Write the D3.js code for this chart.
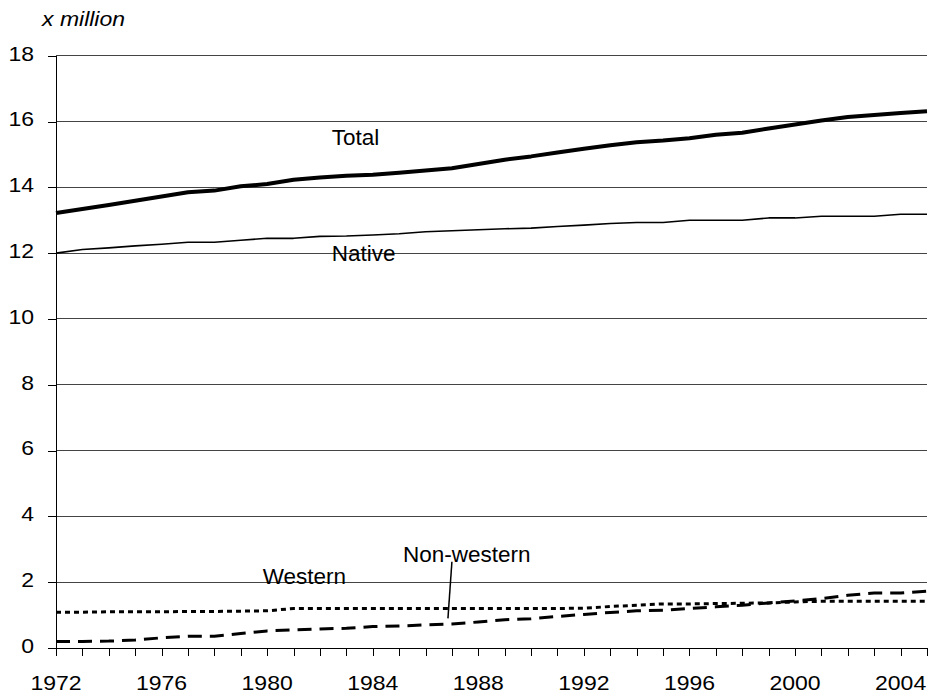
<!DOCTYPE html>
<html>
<head>
<meta charset="utf-8">
<script src="https://cdn.jsdelivr.net/npm/d3@7"></script>
<style>
  html, body { margin: 0; padding: 0; background: #fff; }
  svg { display: block; }
  text { font-family: "Liberation Sans", Arial, sans-serif; fill: #000; }
</style>
</head>
<body>
<svg id="chart" width="930" height="699"></svg>
<script>
// ---- data ----
const years = d3.range(1972, 2006);
const total = [13.22, 13.34, 13.46, 13.59, 13.72, 13.85, 13.90, 14.03, 14.10, 14.23,
               14.30, 14.35, 14.38, 14.44, 14.51, 14.58, 14.71, 14.84, 14.94, 15.06,
               15.17, 15.28, 15.37, 15.42, 15.49, 15.60, 15.66, 15.79, 15.91, 16.03,
               16.14, 16.20, 16.26, 16.31];
const native = [12.00, 12.11, 12.16, 12.22, 12.27, 12.33, 12.33, 12.39, 12.45, 12.45,
                12.51, 12.52, 12.55, 12.59, 12.65, 12.68, 12.71, 12.74, 12.76, 12.81,
                12.85, 12.90, 12.93, 12.93, 13.00, 13.00, 13.00, 13.07, 13.07, 13.12,
                13.12, 13.12, 13.18, 13.18];
const western = [1.09, 1.09, 1.10, 1.10, 1.10, 1.11, 1.11, 1.12, 1.13, 1.20,
                 1.20, 1.20, 1.20, 1.20, 1.20, 1.20, 1.20, 1.20, 1.20, 1.20,
                 1.21, 1.26, 1.30, 1.34, 1.34, 1.35, 1.36, 1.37, 1.40, 1.42,
                 1.42, 1.42, 1.42, 1.42];
const nonWestern = [0.20, 0.20, 0.21, 0.24, 0.31, 0.36, 0.36, 0.44, 0.52, 0.55,
                    0.58, 0.60, 0.65, 0.67, 0.70, 0.73, 0.79, 0.86, 0.89, 0.96,
                    1.02, 1.08, 1.13, 1.15, 1.20, 1.25, 1.30, 1.37, 1.43, 1.50,
                    1.60, 1.67, 1.67, 1.73];
const yTicks = [0, 2, 4, 6, 8, 10, 12, 14, 16, 18];
const xLabelYears = [1972, 1976, 1980, 1984, 1988, 1992, 1996, 2000, 2004];
const unitLabel = "x million";
const seriesLabels = [
  { text: "Total", year: 1982.45, value: 15.29 },
  { text: "Native", year: 1982.45, value: 11.76 },
  { text: "Western", year: 1979.83, value: 1.945 },
  { text: "Non-western", year: 1985.15, value: 2.61 }
];
const leader = { from: [1987.0, 2.62], to: [1986.85, 0.90] };

// ---- layout ----
const svg = d3.select("#chart");
const x = d3.scaleLinear().domain([1972, 2005]).range([56, 927]);
const y = d3.scaleLinear().domain([0, 18]).range([648, 55.7]);
const stretch = 1.18;

// gridlines
svg.append("g").selectAll("line").data(yTicks.filter(d => d > 0)).join("line")
  .attr("x1", x(1972)).attr("x2", x(2005))
  .attr("y1", d => y(d)).attr("y2", d => y(d))
  .attr("stroke", "#444").attr("stroke-width", 1).attr("shape-rendering", "crispEdges");

// y axis
const yAxis = svg.append("g").attr("transform", `translate(${x(1972)},0)`)
  .call(d3.axisLeft(y).tickValues(yTicks).tickSize(8).tickSizeOuter(0).tickFormat(""));
yAxis.selectAll("line, path").attr("stroke", "#000").attr("shape-rendering", "crispEdges");

// x axis
const xAxis = svg.append("g").attr("transform", `translate(0,${y(0)})`)
  .call(d3.axisBottom(x).tickValues(years).tickSize(8).tickSizeOuter(0).tickFormat(""));
xAxis.selectAll("line, path").attr("stroke", "#000").attr("shape-rendering", "crispEdges");

// y tick labels
svg.append("g").selectAll("text").data(yTicks).join("text")
  .attr("transform", d => `translate(34,${y(d) + 4.8}) scale(${stretch},1)`)
  .attr("text-anchor", "end").attr("font-size", 19.5)
  .text(d => d);

// x tick labels
svg.append("g").selectAll("text").data(xLabelYears).join("text")
  .attr("transform", d => `translate(${x(d)},690) scale(${stretch},1)`)
  .attr("text-anchor", "middle").attr("font-size", 19.5)
  .text(d => d);

// unit label
svg.append("text")
  .attr("transform", `translate(42,26) scale(${stretch},1)`)
  .attr("font-size", 19.5).attr("font-style", "italic")
  .text(unitLabel);

// lines
const line = d3.line().x((d, i) => x(years[i])).y(d => y(d));
svg.append("path").datum(western).attr("d", line)
  .attr("fill", "none").attr("stroke", "#000").attr("stroke-width", 3)
  .attr("stroke-dasharray", "5,4");
svg.append("path").datum(nonWestern).attr("d", line)
  .attr("fill", "none").attr("stroke", "#000").attr("stroke-width", 3)
  .attr("stroke-dasharray", "14,8");
svg.append("path").datum(native).attr("d", line)
  .attr("fill", "none").attr("stroke", "#000").attr("stroke-width", 1.6)
  .attr("stroke-linejoin", "round");
svg.append("path").datum(total).attr("d", line)
  .attr("fill", "none").attr("stroke", "#000").attr("stroke-width", 4)
  .attr("stroke-linejoin", "round");

// series labels
svg.append("g").selectAll("text").data(seriesLabels).join("text")
  .attr("x", d => x(d.year)).attr("y", d => y(d.value))
  .attr("font-size", 22.5)
  .text(d => d.text);

// leader line
svg.append("line")
  .attr("x1", x(leader.from[0])).attr("y1", y(leader.from[1]))
  .attr("x2", x(leader.to[0])).attr("y2", y(leader.to[1]))
  .attr("stroke", "#000").attr("stroke-width", 1.5);
</script>
</body>
</html>
